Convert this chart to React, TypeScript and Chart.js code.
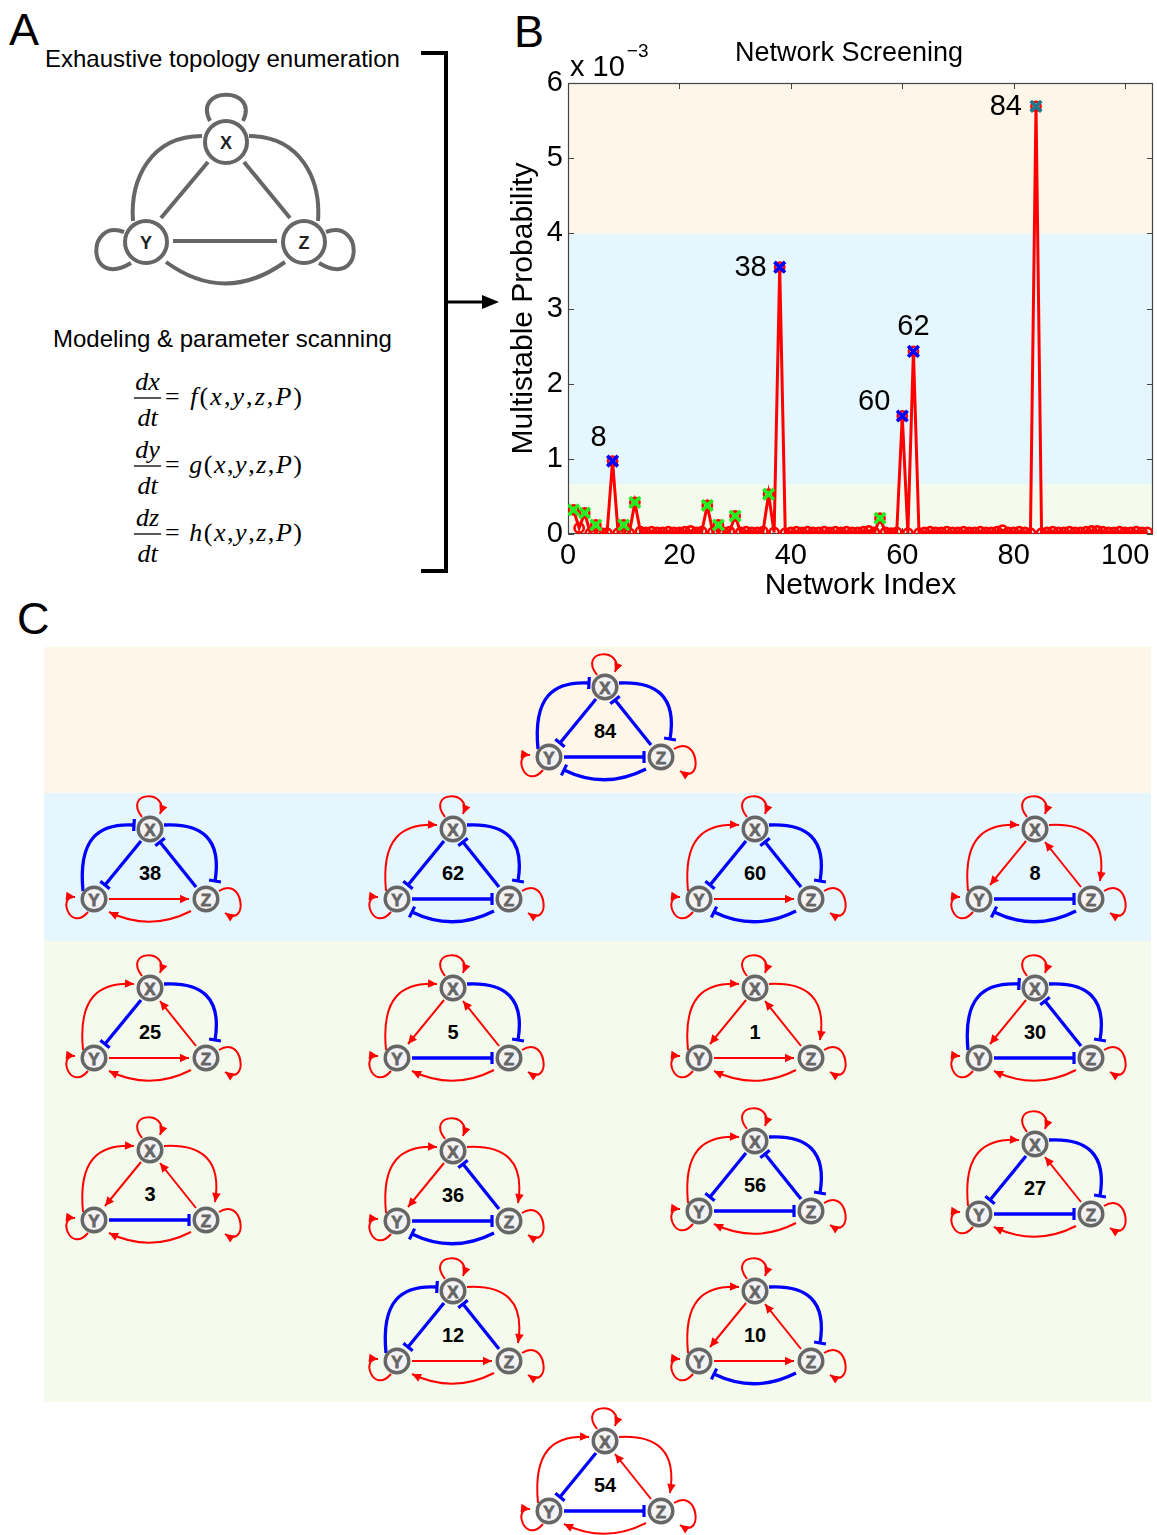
import React, { useEffect, useRef } from 'react';
import { Chart, registerables } from 'chart.js';

Chart.register(...registerables);

const FONT = '"Liberation Sans", Arial, Helvetica, sans-serif';
const SERIF = '"Liberation Serif", "Times New Roman", serif';

// ---------------- Panel B data (values in units of 1e-3) ----------------
const probability: number[] = [
  0.32, 0.08, 0.28, 0.01, 0.12, 0.01, 0.01, 0.97, 0.01, 0.12,
  0.01, 0.42, 0.03, 0.02, 0.03, 0.02, 0.02, 0.03, 0.02, 0.02,
  0.03, 0.04, 0.02, 0.03, 0.38, 0.02, 0.12, 0.02, 0.03, 0.24,
  0.02, 0.03, 0.02, 0.02, 0.03, 0.53, 0.02, 3.55, 0.01, 0.02,
  0.03, 0.02, 0.03, 0.02, 0.02, 0.03, 0.02, 0.03, 0.02, 0.03,
  0.02, 0.02, 0.03, 0.04, 0.02, 0.21, 0.02, 0.01, 0.02, 1.57,
  0.01, 2.43, 0.01, 0.02, 0.03, 0.02, 0.02, 0.03, 0.02, 0.02,
  0.03, 0.02, 0.02, 0.03, 0.02, 0.02, 0.03, 0.05, 0.02, 0.02,
  0.03, 0.02, 0.01, 5.69, 0.01, 0.02, 0.03, 0.02, 0.02, 0.03,
  0.02, 0.02, 0.03, 0.04, 0.04, 0.03, 0.02, 0.02, 0.03, 0.02,
  0.02, 0.03, 0.02, 0.02,
];
const greenMarked = [1, 3, 5, 10, 12, 25, 27, 30, 36, 56];
const blueMarked = [8, 38, 60, 62];
const tealMarked = [84];
const peakLabels = [8, 38, 60, 62, 84];
const bandEdges = [0, 0.66, 4, 6];
const bandColors = ['#f4fbed', '#e5f6fd', '#fdf6e9'];
const xTickStep = 20;
const yTickStep = 1;

// label placement around peaks (pixels): [dx, dy, align]
const PEAK_LABEL_POS: Record<number, [number, number, CanvasTextAlign]> = {
  8: [-14, -23, 'center'],
  38: [-13, 1, 'right'],
  60: [-12, -14, 'right'],
  62: [0, -24, 'center'],
  84: [-14, 1, 'right'],
};

// ---------------- Panel C data ----------------
const networkIds = [84, 38, 62, 60, 8, 25, 5, 1, 30, 3, 36, 56, 27, 12, 10, 54];
// edge order: XY (straight), ZX (straight), YZ (straight), YX (left arc), XZ (right arc), ZY (bottom arc)
// a = activation, i = inhibition
const networkEdges = [
  'iiiiii', 'iiaiia', 'iiiaii', 'iiaaii', 'aaiaai',
  'iaaaia', 'aaiaia', 'aaaaaa', 'aiiiia',
  'aaiaaa', 'aiiaai', 'iiiaia', 'iaiaia',
  'iiaiaa', 'aaaaii', 'iaiaaa',
];
const networkCenters: [number, number][] = [
  [605, 687],
  [150, 829], [453, 829], [755, 829], [1035, 829],
  [150, 988], [453, 988], [755, 988], [1035, 988],
  [150, 1150], [453, 1151], [755, 1141], [1035, 1144],
  [453, 1291], [755, 1291],
  [605, 1441],
];

const RED = '#ff0000';
const BLUE = '#0000ff';
const GRAY = '#666666';

type Pt = [number, number];
type Shape = { kind: 'line' | 'cubic' | 'quad'; pts: Pt[] };

const EDGE_KEYS = ['XY', 'ZX', 'YZ', 'YX', 'XZ', 'ZY'];
const EDGE_SHAPES: Record<string, Shape> = {
  XY: { kind: 'line', pts: [[-9, 12], [-45, 56]] },
  ZX: { kind: 'line', pts: [[46, 58], [10, 13]] },
  YZ: { kind: 'line', pts: [[-41, 70], [39, 70]] },
  YX: { kind: 'cubic', pts: [[-67, 62], [-72, 10], [-52, -6], [-16, -4]] },
  XZ: { kind: 'cubic', pts: [[14, -4], [52, -6], [72, 10], [65, 52]] },
  ZY: { kind: 'quad', pts: [[41, 82], [0, 103], [-41, 83]] },
};
const NODE_POS: Record<string, Pt> = { X: [0, 0], Y: [-56, 70], Z: [56, 70] };
const LOOP_SHAPES: Shape[] = [
  { kind: 'cubic', pts: [[-8, -12], [-28, -38], [20, -40], [10, -15]] },
  { kind: 'cubic', pts: [[-62, 83], [-80, 104], [-93, 66], [-75, 68]] },
  { kind: 'cubic', pts: [[69, 62], [94, 46], [99, 100], [75, 84]] },
];

function pathD(s: Shape): string {
  const p = s.pts;
  if (s.kind === 'line') return `M ${p[0][0]} ${p[0][1]} L ${p[1][0]} ${p[1][1]}`;
  if (s.kind === 'quad') return `M ${p[0][0]} ${p[0][1]} Q ${p[1][0]} ${p[1][1]} ${p[2][0]} ${p[2][1]}`;
  return `M ${p[0][0]} ${p[0][1]} C ${p[1][0]} ${p[1][1]} ${p[2][0]} ${p[2][1]} ${p[3][0]} ${p[3][1]}`;
}

function EdgeEnd({ s, type }: { s: Shape; type: string }) {
  const n = s.pts.length;
  const a = s.pts[n - 2];
  const b = s.pts[n - 1];
  const dx = b[0] - a[0];
  const dy = b[1] - a[1];
  const len = Math.hypot(dx, dy) || 1;
  const ux = dx / len;
  const uy = dy / len;
  const nx = -uy;
  const ny = ux;
  if (type === 'a') {
    const L = 9;
    const W = 4.3;
    const bx = b[0] - ux * L;
    const by = b[1] - uy * L;
    const pts = `${b[0]},${b[1]} ${bx + nx * W},${by + ny * W} ${bx - nx * W},${by - ny * W}`;
    return <polygon points={pts} fill={RED} />;
  }
  const H = 6;
  return (
    <line x1={b[0] + nx * H} y1={b[1] + ny * H} x2={b[0] - nx * H} y2={b[1] - ny * H}
      stroke={BLUE} strokeWidth={3.2} />
  );
}

function Edge({ s, type }: { s: Shape; type: string }) {
  const color = type === 'a' ? RED : BLUE;
  return (
    <g>
      <path d={pathD(s)} fill="none" stroke={color} strokeWidth={type === 'a' ? 2 : 3.3} />
      <EdgeEnd s={s} type={type} />
    </g>
  );
}

function Network({ id, cx, cy, edges }: { id: number; cx: number; cy: number; edges: string }) {
  return (
    <g transform={`translate(${cx} ${cy})`}>
      {LOOP_SHAPES.map((s, i) => <Edge key={'l' + i} s={s} type="a" />)}
      {EDGE_KEYS.map((k, i) => <Edge key={k} s={EDGE_SHAPES[k]} type={edges[i]} />)}
      {Object.keys(NODE_POS).map((k) => (
        <g key={k}>
          <circle cx={NODE_POS[k][0]} cy={NODE_POS[k][1]} r={11.8} fill="#f2f2f2" stroke={GRAY} strokeWidth={3.4} />
          <text x={NODE_POS[k][0]} y={NODE_POS[k][1] + 1} textAnchor="middle" dominantBaseline="central"
            fontFamily={FONT} fontWeight={900} fontSize={17} fill={GRAY}
            stroke={GRAY} strokeWidth={0.8}>{k}</text>
        </g>
      ))}
      <text x={0} y={44} textAnchor="middle" dominantBaseline="central" fontFamily={FONT}
        fontWeight={700} fontSize={20} fill="#000">{id}</text>
    </g>
  );
}

// ---------------- Panel B chart ----------------
function ScreeningChart() {
  const ref = useRef<HTMLCanvasElement>(null);
  useEffect(() => {
    const canvas = ref.current;
    if (!canvas) return;
    Chart.defaults.font.family = FONT;
    const valueAt = (i: number) => probability[i - 1];
    const markerSet = (idx: number[], color: string) => ({
      data: idx.map((i) => ({ x: i, y: valueAt(i) })),
      showLine: false,
      pointStyle: 'crossRot' as const,
      pointRadius: 7.5,
      pointBorderWidth: 3.6,
      pointBorderColor: color,
      borderColor: color,
      backgroundColor: color,
      order: 0,
    });

    const decor = {
      id: 'decor',
      beforeDraw(chart: any) {
        const { ctx, chartArea, scales } = chart;
        const { left, right } = chartArea;
        const y = scales.y;
        ctx.save();
        for (let i = 0; i < bandColors.length; i++) {
          const y0 = y.getPixelForValue(bandEdges[i]);
          const y1 = y.getPixelForValue(bandEdges[i + 1]);
          ctx.fillStyle = bandColors[i];
          ctx.fillRect(left, y1, right - left, y0 - y1);
        }
        ctx.restore();
      },
      beforeDatasetsDraw(chart: any) {
        const { ctx, chartArea, scales } = chart;
        const { left, right, top, bottom } = chartArea;
        ctx.save();
        ctx.strokeStyle = '#444';
        ctx.lineWidth = 1.2;
        ctx.strokeRect(left + 0.5, top + 0.5, right - left - 1, bottom - top - 1);
        ctx.lineWidth = 1;
        ctx.beginPath();
        scales.y.ticks.forEach((t: any) => {
          const py = Math.round(scales.y.getPixelForValue(t.value)) + 0.5;
          ctx.moveTo(left, py); ctx.lineTo(left + 6, py);
          ctx.moveTo(right, py); ctx.lineTo(right - 6, py);
        });
        scales.x.ticks.forEach((t: any) => {
          const px = Math.round(scales.x.getPixelForValue(t.value)) + 0.5;
          ctx.moveTo(px, bottom); ctx.lineTo(px, bottom - 6);
          ctx.moveTo(px, top); ctx.lineTo(px, top + 6);
        });
        ctx.stroke();
        ctx.restore();
      },
      afterDraw(chart: any) {
        const { ctx, chartArea, scales } = chart;
        ctx.save();
        ctx.fillStyle = '#000';
        ctx.font = `29px ${FONT}`;
        ctx.textAlign = 'left';
        ctx.textBaseline = 'alphabetic';
        const base = 'x 10';
        ctx.fillText(base, chartArea.left + 2, 76);
        const w = ctx.measureText(base).width;
        ctx.font = `19px ${FONT}`;
        ctx.fillText('\u22123', chartArea.left + 4 + w, 57);
        ctx.font = `27px ${FONT}`;
        ctx.textAlign = 'center';
        ctx.fillText('Network Screening', 349, 61);
        ctx.font = `29px ${FONT}`;
        ctx.textBaseline = 'middle';
        peakLabels.forEach((i) => {
          const [dx, dy, align] = PEAK_LABEL_POS[i];
          const px = scales.x.getPixelForValue(i);
          const py = scales.y.getPixelForValue(valueAt(i));
          ctx.textAlign = align;
          ctx.fillText(String(i), px + dx, py + dy);
        });
        ctx.restore();
      },
    };

    const chart = new Chart(canvas, {
      type: 'line',
      data: {
        datasets: [
          markerSet(greenMarked, '#22ee22') as any,
          markerSet(blueMarked, '#0000ff') as any,
          markerSet(tealMarked, '#1c7a8c') as any,
          {
            data: probability.map((v, i) => ({ x: i + 1, y: v })),
            borderColor: RED,
            borderWidth: 3,
            pointRadius: 4.6,
            pointBorderWidth: 2.6,
            pointBorderColor: RED,
            pointBackgroundColor: 'rgba(0,0,0,0)',
            tension: 0,
            order: 1,
          },
        ],
      },
      options: {
        animation: false,
        responsive: false,
        maintainAspectRatio: false,
        layout: { padding: { top: 83, right: 12, left: 0, bottom: 0 } },
        plugins: {
          legend: { display: false },
          tooltip: { enabled: false },
          title: { display: false },
        },
        scales: {
          x: {
            type: 'linear',
            min: 0,
            max: 105,
            grid: { display: false, drawTicks: false },
            border: { display: false },
            ticks: {
              stepSize: xTickStep,
              includeBounds: false,
              padding: 5,
              maxRotation: 0,
              color: '#000',
              font: { size: 29, family: FONT },
            },
            title: {
              display: true,
              text: 'Network Index',
              color: '#000',
              font: { size: 30, family: FONT },
              padding: { top: 0, bottom: 6 },
            },
            afterFit: (s: any) => { s.height = 76; s.paddingLeft = 0; s.paddingRight = 0; },
          },
          y: {
            min: 0,
            max: 6,
            grid: { display: false, drawTicks: false },
            border: { display: false },
            ticks: {
              stepSize: yTickStep,
              padding: 5,
              color: '#000',
              font: { size: 29, family: FONT },
            },
            title: {
              display: true,
              text: 'Multistable Probability',
              color: '#000',
              font: { size: 30, family: FONT },
              padding: { top: 6, bottom: 0 },
            },
            afterFit: (s: any) => { s.width = 68; s.paddingTop = 0; s.paddingBottom = 0; },
          },
        },
      } as any,
      plugins: [decor],
    });
    return () => chart.destroy();
  }, []);
  return (
    <canvas ref={ref} width={665} height={610}
      style={{ position: 'absolute', left: 500, top: 0, width: 665, height: 610 }} />
  );
}

// ---------------- Panel A ----------------
function Equation({ v, fn, bar }: { v: string; fn: string; bar: number }) {
  return (
    <g fontFamily={SERIF} fontSize={26} fill="#000">
      <text x={147.5} y={bar - 8} textAnchor="middle" fontStyle="italic">{'d' + v}</text>
      <line x1={134} y1={bar} x2={161} y2={bar} stroke="#000" strokeWidth={1.3} />
      <text x={147.5} y={bar + 28} textAnchor="middle" fontStyle="italic">dt</text>
      <text x={165} y={bar + 7} textLength={137} lengthAdjust="spacing">
        <tspan>= </tspan>
        <tspan fontStyle="italic">{fn}</tspan>
        <tspan>(</tspan>
        <tspan fontStyle="italic">x</tspan>
        <tspan>,</tspan>
        <tspan fontStyle="italic">y</tspan>
        <tspan>,</tspan>
        <tspan fontStyle="italic">z</tspan>
        <tspan>,</tspan>
        <tspan fontStyle="italic">P</tspan>
        <tspan>)</tspan>
      </text>
    </g>
  );
}

function PanelA() {
  const g = '#666';
  return (
    <g>
      <text x={9} y={45} fontFamily={FONT} fontSize={45} fill="#000">A</text>
      <text x={45} y={67} fontFamily={FONT} fontSize={24} fill="#000">Exhaustive topology enumeration</text>
      <g fill="none" stroke={g} strokeWidth={4}>
        <path d="M 210 121 C 192 86, 260 86, 243 121" />
        <path d="M 124 232 C 86 218, 86 290, 131 263" />
        <path d="M 326 232 C 364 218, 364 290, 319 263" />
        <path d="M 202 136 C 150 136, 130 180, 133 221" />
        <path d="M 249 136 C 301 136, 321 180, 318 221" />
        <path d="M 166 262 Q 225 305, 285 262" />
        <line x1={208} y1={162} x2={161} y2={218} />
        <line x1={244} y1={162} x2={290} y2={218} />
        <line x1={173} y1={241} x2={277} y2={241} />
        <circle cx={226} cy={142} r={21} fill="#fff" />
        <circle cx={146} cy={242} r={21} fill="#fff" />
        <circle cx={304} cy={242} r={21} fill="#fff" />
      </g>
      <g fontFamily={FONT} fontWeight={700} fontSize={18} fill="#222" textAnchor="middle">
        <text x={226} y={149}>X</text>
        <text x={146} y={249}>Y</text>
        <text x={304} y={249}>Z</text>
      </g>
      <text x={53} y={347} fontFamily={FONT} fontSize={24} fill="#000">Modeling &amp; parameter scanning</text>
      <Equation v="x" fn="f" bar={398} />
      <Equation v="y" fn="g" bar={466} />
      <Equation v="z" fn="h" bar={534} />
      <g stroke="#000" strokeWidth={4} fill="none">
        <polyline points="421,53 446,53 446,571 421,571" />
        <line x1={446} y1={302} x2={485} y2={302} strokeWidth={3} />
      </g>
      <polygon points="499,302 482,295 482,309" fill="#000" />
    </g>
  );
}

export default function App() {
  return (
    <div style={{ position: 'absolute', left: 0, top: 0, width: 1157, height: 1535, background: '#fff', overflow: 'hidden' }}>
      <svg width={1157} height={1535} style={{ position: 'absolute', left: 0, top: 0 }}>
        <PanelA />
        <text x={514} y={47} fontFamily={FONT} fontSize={45} fill="#000">B</text>
        <text x={17} y={634} fontFamily={FONT} fontSize={45} fill="#000">C</text>
        <rect x={44} y={647} width={1107} height={146} fill="#fdf6e9" />
        <rect x={44} y={793} width={1107} height={148} fill="#e5f6fd" />
        <rect x={44} y={941} width={1107} height={461} fill="#f4fbed" />
        {networkIds.map((id, i) => (
          <Network key={id} id={id} cx={networkCenters[i][0]} cy={networkCenters[i][1]} edges={networkEdges[i]} />
        ))}
      </svg>
      <ScreeningChart />
    </div>
  );
}
